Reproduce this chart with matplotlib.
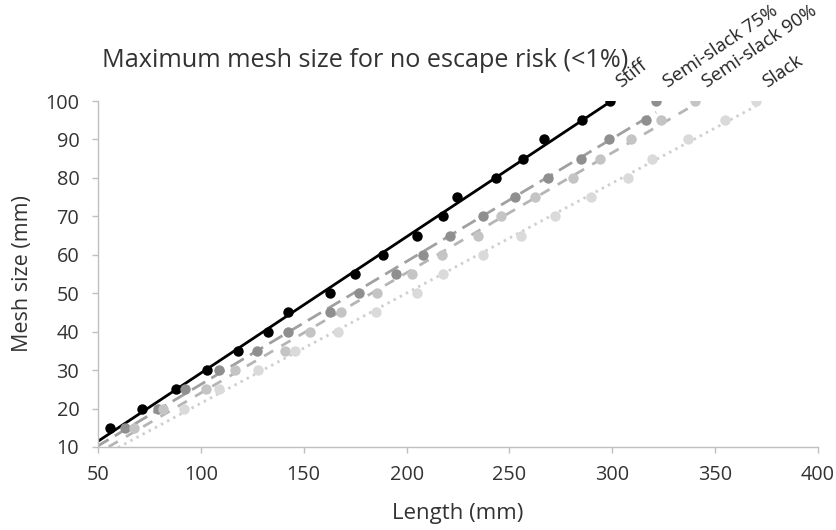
import numpy as np
import matplotlib
matplotlib.use("Agg")
import matplotlib.pyplot as plt

# ---- data ----
mesh_stiff = [15, 20, 25, 30, 35, 40, 45, 50, 55, 60, 65, 70, 75, 80, 85, 90, 95, 100]
len_stiff = [56.0, 71.2, 87.7, 102.8, 118.2, 132.8, 142.4, 162.6, 174.9, 188.6,
             205.0, 217.9, 224.5, 243.4, 256.6, 266.7, 285.1, 298.9]

mesh_ss75 = [15, 20, 25, 30, 35, 40, 45, 50, 55, 60, 65, 70, 75, 80, 85, 90, 95, 100]
len_ss75 = [63.1, 79.0, 92.3, 108.9, 127.5, 142.4, 162.8, 177.0, 194.9, 208.2,
            221.3, 237.3, 252.7, 268.6, 284.9, 298.6, 316.3, 321.3]

mesh_ss90 = [15, 20, 25, 30, 35, 40, 45, 50, 55, 60, 65, 70, 75, 80, 85, 90, 95, 100]
len_ss90 = [67.6, 81.5, 102.4, 116.7, 140.9, 153.1, 168.0, 185.5, 202.4, 217.0,
            234.7, 245.8, 262.6, 281.1, 294.1, 309.3, 323.5, 340.2]

mesh_slack = [20, 25, 30, 35, 40, 45, 50, 55, 60, 65, 70, 75, 80, 85, 90, 95, 100]
len_slack = [91.8, 108.9, 127.9, 145.8, 166.8, 185.3, 204.9, 217.9, 237.3, 255.6,
             272.2, 289.5, 307.8, 319.2, 337.0, 354.8, 369.7]

series_names = ["Stiff", "Semi-slack 75%", "Semi-slack 90%", "Slack"]
x_ticks = [50, 100, 150, 200, 250, 300, 350, 400]
y_ticks = [10, 20, 30, 40, 50, 60, 70, 80, 90, 100]

title = "Maximum mesh size for no escape risk (<1%)"
xlabel = "Length (mm)"
ylabel = "Mesh size (mm)"

# ---- styling ----
plt.rcParams['font.family'] = ['Open Sans', 'DejaVu Sans']
W, H, DPI = 836, 530, 100
fig = plt.figure(figsize=(W / DPI, H / DPI), dpi=DPI)
ax = fig.add_axes([98 / W, 1 - 447 / H, (818 - 98) / W, (447 - 101) / H])

styles = [
    dict(dot="#000000", line="#000000", ls="-", lw=2.0, rot=38),
    dict(dot="#8f8f8f", line="#a0a0a0", ls=(0, (5.5, 2.6)), lw=2.0, rot=34),
    dict(dot="#c4c4c4", line="#b5b5b5", ls=(0, (3.8, 3.4)), lw=2.0, rot=34),
    dict(dot="#dadada", line="#cfcfcf", ls=(0, (0.9, 1.6)), lw=2.0, rot=34),
]
data = [(len_stiff, mesh_stiff), (len_ss75, mesh_ss75),
        (len_ss90, mesh_ss90), (len_slack, mesh_slack)]

for (xs, ys), st, name in zip(data, styles, series_names):
    xs = np.asarray(xs); ys = np.asarray(ys)
    # linear trendline (fit of the data), drawn from left edge to last point
    a, b = np.polyfit(xs, ys, 1)
    xl = np.array([30.0, xs.max()])
    ax.plot(xl, a * xl + b, color=st["line"], ls=st["ls"], lw=st["lw"],
            zorder=2, solid_capstyle='butt', dash_capstyle='butt')
    ax.plot(xs, ys, 'o', color=st["dot"], ms=7.5, mec='none', zorder=3)
    # series label at end
    ax.annotate(name, xy=(xs[-1], ys[-1]), xytext=(10, 7), textcoords='offset points',
                rotation=st["rot"], rotation_mode='anchor', ha='left', va='bottom',
                fontsize=13.5, color='#222222', annotation_clip=False)

ax.set_xlim(50, 400)
ax.set_ylim(10, 100)
ax.set_xticks(x_ticks)
ax.set_yticks(y_ticks)
for s in ["top", "right"]:
    ax.spines[s].set_visible(False)
for s in ["left", "bottom"]:
    ax.spines[s].set_color("#bfbfbf")
    ax.spines[s].set_linewidth(1.0)
ax.tick_params(axis='both', direction='out', length=4.5, width=1.0, color='#bfbfbf',
               labelsize=14.3, labelcolor='#333333')
ax.tick_params(axis='y', pad=9)
ax.tick_params(axis='x', pad=8.5)

ax.set_xlabel(xlabel, fontsize=16, color='#333333', labelpad=13)
ax.set_ylabel(ylabel, fontsize=15.5, color='#333333', labelpad=9)

fig.text(102 / W, 1 - 67 / H, title, fontsize=18.2, color='#333333',
         ha='left', va='baseline')

fig.savefig("out.png", dpi=DPI)
